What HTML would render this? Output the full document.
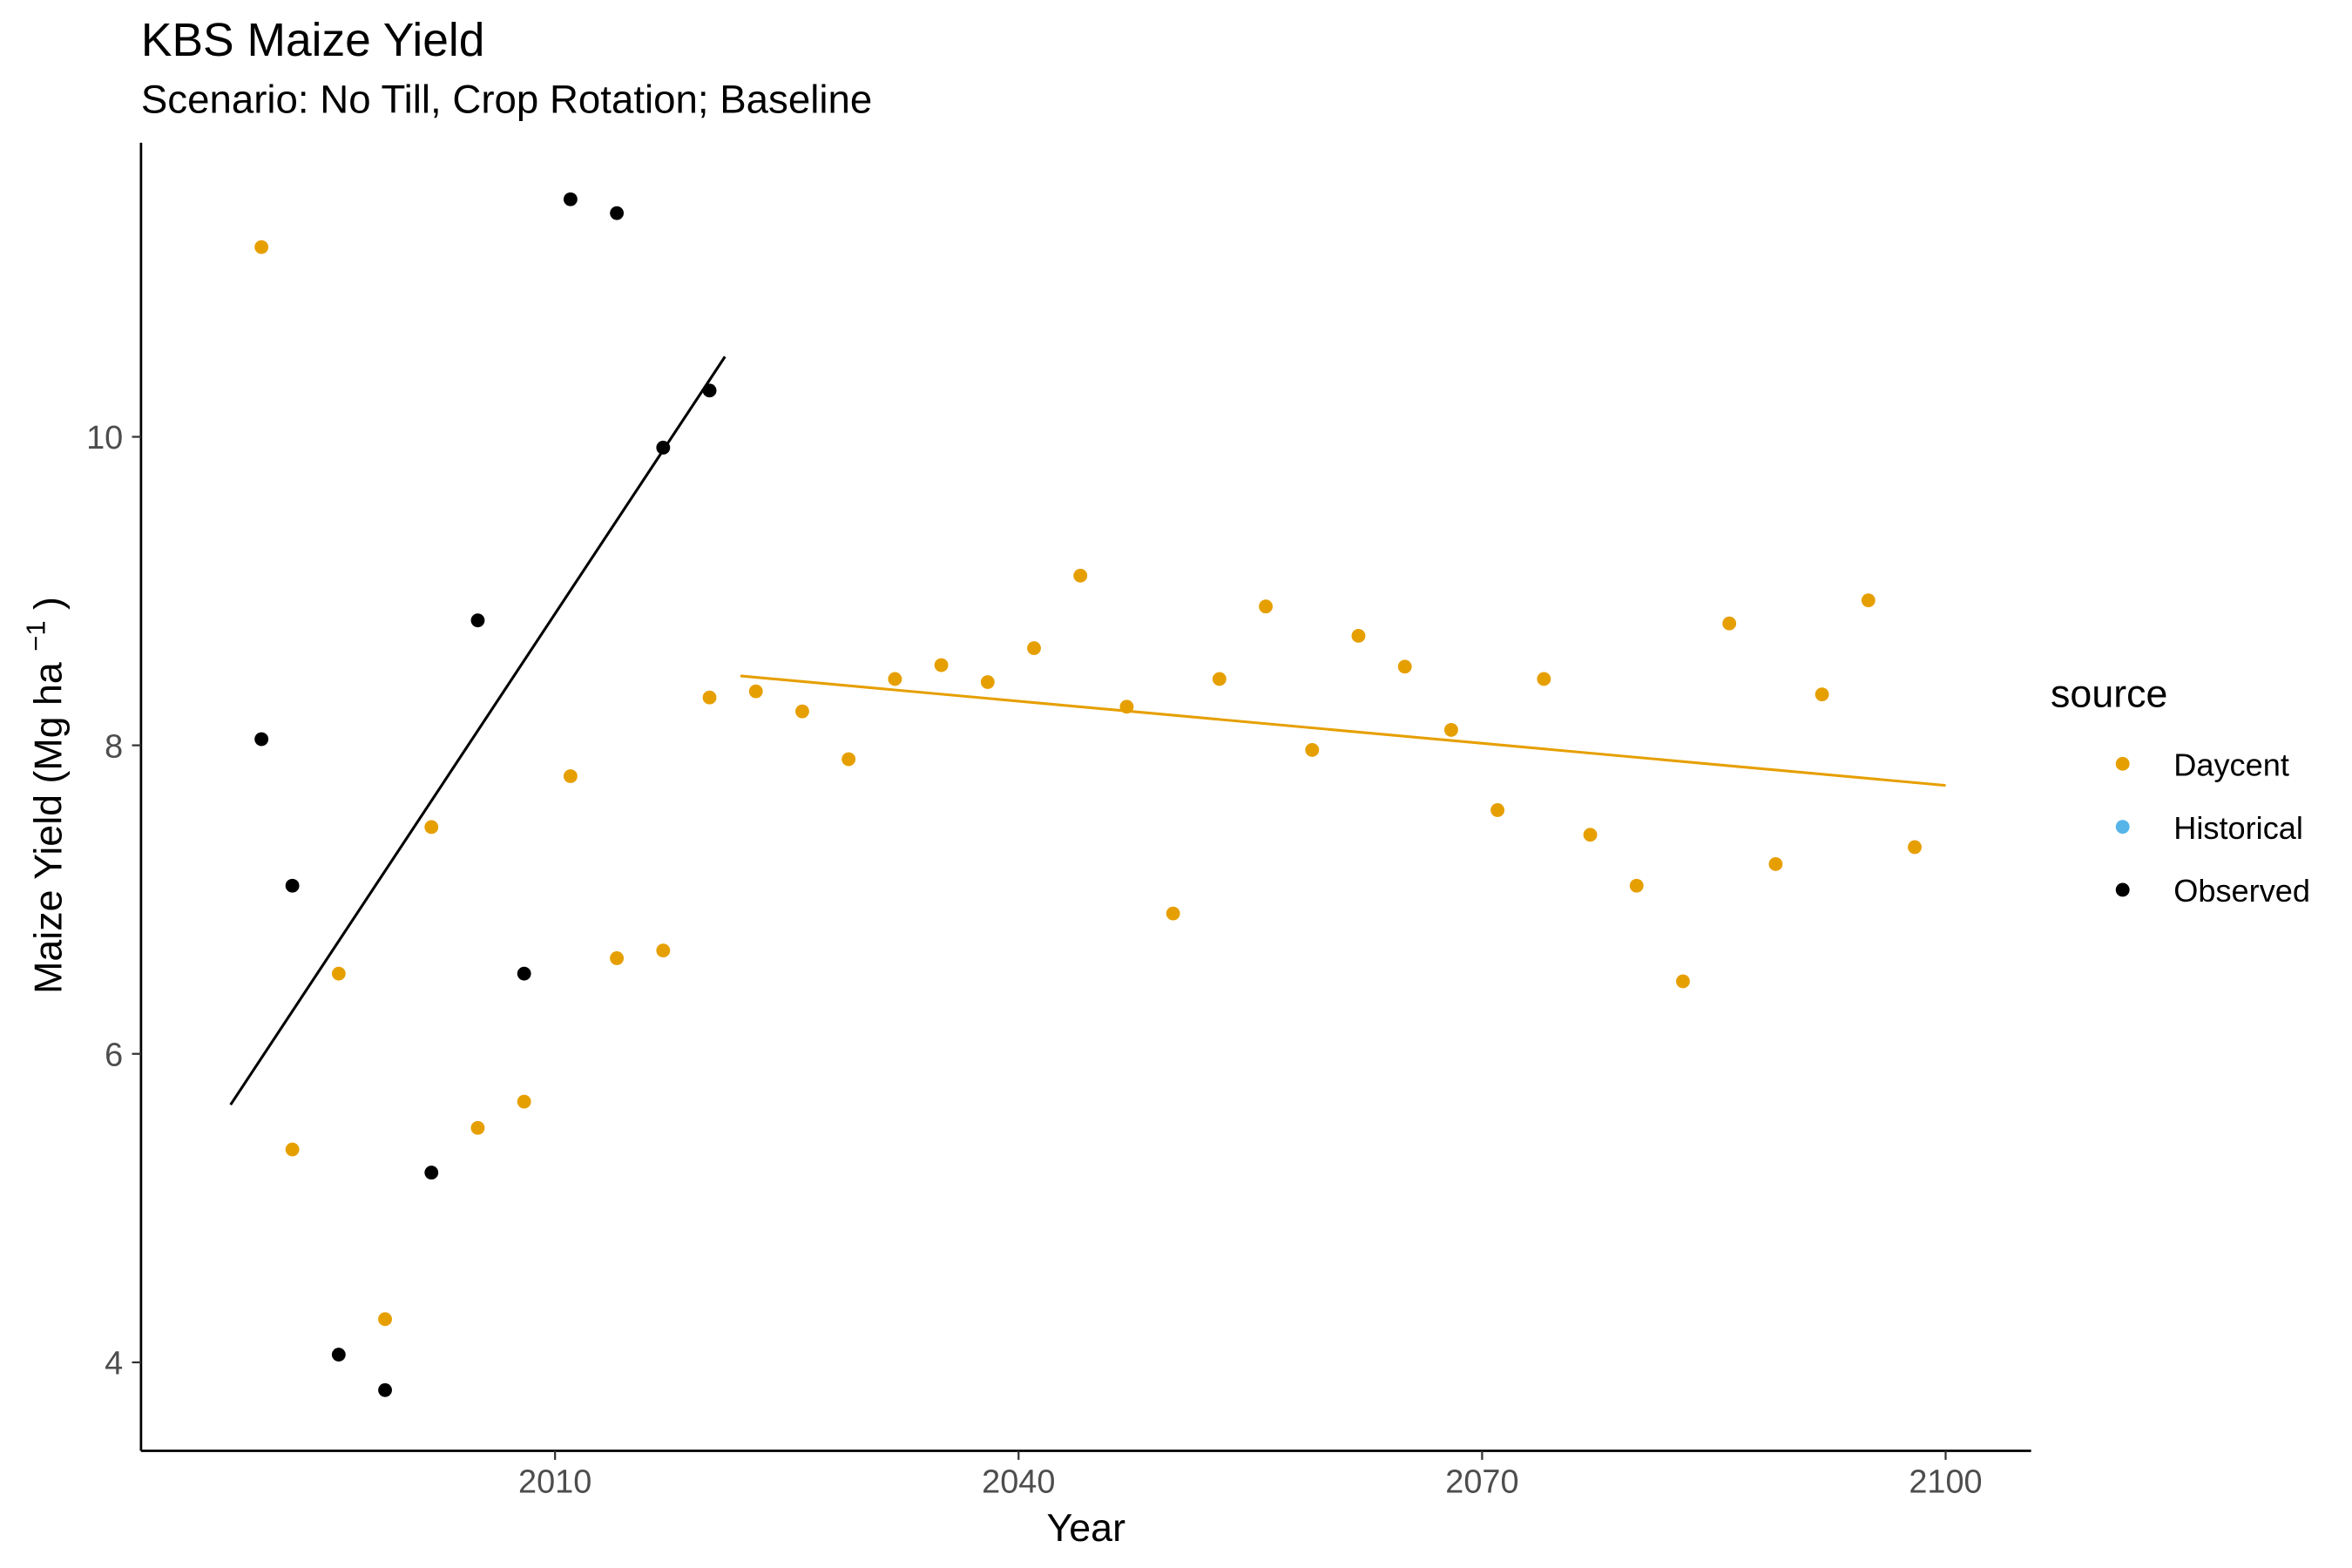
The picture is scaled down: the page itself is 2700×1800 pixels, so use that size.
<!DOCTYPE html>
<html><head><meta charset="utf-8"><style>
html,body{margin:0;padding:0;background:#fff;}
svg{display:block;font-family:"Liberation Sans",Arial,sans-serif;}
</style></head><body>
<svg id="chart" width="2700" height="1800" viewBox="0 0 1553 1035" xmlns="http://www.w3.org/2000/svg">
<rect width="1553" height="1035" fill="#fff"/>
<g transform="scale(0.9905)">
<text x="94" y="37" font-size="31" fill="#000">KBS Maize Yield</text>
<text x="94" y="75" font-size="26.5" fill="#000">Scenario: No Till, Crop Rotation; Baseline</text>
<g id="plot"></g>
<line x1="94" y1="95" x2="94" y2="967" stroke="#000" stroke-width="1.6"/>
<line x1="94" y1="967" x2="1354" y2="967" stroke="#000" stroke-width="1.6"/>
<g id="axes"></g>
<text x="724" y="1027" font-size="26" text-anchor="middle" fill="#000">Year</text>
<text transform="translate(41,530) rotate(-90)" font-size="26" text-anchor="middle" fill="#000">Maize Yield (Mg ha <tspan dy="-11" font-size="18">−1</tspan><tspan dy="11"> )</tspan></text>
<g>
<text x="1367" y="471" font-size="26" fill="#000">source</text>
<g><circle cx="1415" cy="509" r="4.6" fill="#E69F00"/><text x="1449" y="517" font-size="21">Daycent</text></g>
<g><circle cx="1415" cy="551" r="4.6" fill="#56B4E9"/><text x="1449" y="559" font-size="21">Historical</text></g>
<g><circle cx="1415" cy="593" r="4.6" fill="#000"/><text x="1449" y="601" font-size="21">Observed</text></g>
</g>
</g>
</svg>
<script>
const xTicks=[2010,2040,2070,2100];
const yTicks=[4,6,8,10];
const obsYears=[1991,1993,1996,1999,2002,2005,2008,2011,2014,2017,2020];
const obsValues=[8.04,7.09,4.05,3.82,5.23,8.81,6.52,11.54,11.45,9.93,10.30];
const dayYears=[1991,1993,1996,1999,2002,2005,2008,2011,2014,2017,2020,2023,2026,2029,2032,2035,2038,2041,2044,2047,2050,2053,2056,2059,2062,2065,2068,2071,2074,2077,2080,2083,2086,2089,2092,2095,2098];
const dayValues=[11.23,5.38,6.52,4.28,7.47,5.52,5.69,7.80,6.62,6.67,8.31,8.35,8.22,7.91,8.43,8.52,8.41,8.63,9.10,8.25,6.91,8.43,8.90,7.97,8.71,8.51,8.10,7.58,8.43,7.42,7.09,6.47,8.79,7.23,8.33,8.94,7.34];
const obsTrendYears=[1989,2021];
const obsTrendValues=[5.67,10.52];
const dayTrendYears=[2022,2100];
const dayTrendValues=[8.45,7.74];
const NS="http://www.w3.org/2000/svg";
function xs(y){return 370+(y-2010)*10.3;}
function ys(v){return 908-(v-4)*102.83;}
const plot=document.getElementById('plot'),axes=document.getElementById('axes');
function mk(t,a,p){const e=document.createElementNS(NS,t);for(const k in a)e.setAttribute(k,a[k]);p.appendChild(e);return e;}
xTicks.forEach(t=>{
 const l=mk('line',{x1:xs(t),x2:xs(t),y1:967,y2:973,stroke:'#333','stroke-width':1.3},axes);
 
 
 const tx=mk('text',{x:xs(t),y:995,'font-size':22,'text-anchor':'middle',fill:'#4d4d4d'},axes);tx.textContent=t;
 
 
});
yTicks.forEach(t=>{
 const l=mk('line',{x1:88,x2:94,y1:ys(t),y2:ys(t),stroke:'#333','stroke-width':1.3},axes);
 
 
 const tx=mk('text',{x:82,y:ys(t)+8,'font-size':22,'text-anchor':'end',fill:'#4d4d4d'},axes);tx.textContent=t;
 
 
});
const l1=mk('line',{x1:xs(obsTrendYears[0]),y1:ys(obsTrendValues[0]),x2:xs(obsTrendYears[1]),y2:ys(obsTrendValues[1]),stroke:'#000','stroke-width':1.8},plot);


const l2=mk('line',{x1:xs(dayTrendYears[0]),y1:ys(dayTrendValues[0]),x2:xs(dayTrendYears[1]),y2:ys(dayTrendValues[1]),stroke:'#E69F00','stroke-width':1.8},plot);


dayYears.forEach((y,i)=>{
 const c=mk('circle',{cx:xs(y),cy:ys(dayValues[i]),r:4.6,fill:'#E69F00'},plot);
 
 
});
obsYears.forEach((y,i)=>{
 const c=mk('circle',{cx:xs(y),cy:ys(obsValues[i]),r:4.6,fill:'#000'},plot);
 
 
});
</script>
</body></html>
